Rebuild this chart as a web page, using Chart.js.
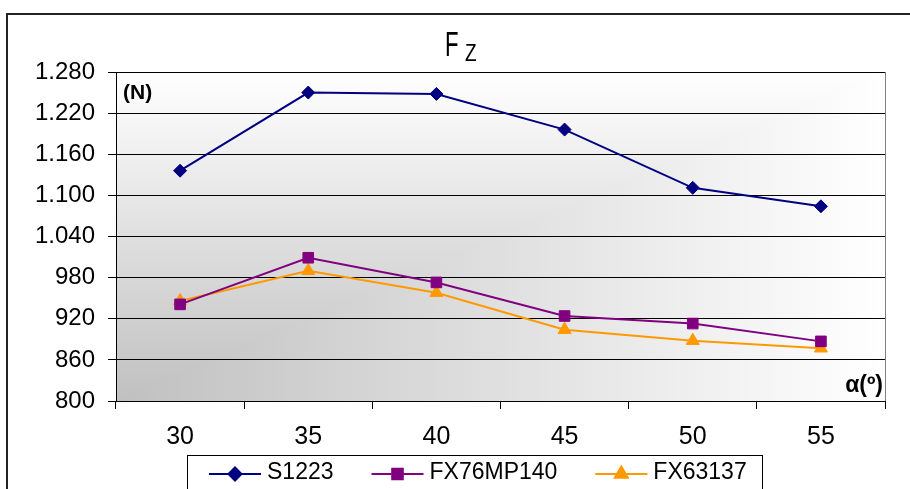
<!DOCTYPE html>
<html>
<head>
<meta charset="utf-8">
<title>Fz</title>
<script src="https://cdn.jsdelivr.net/npm/chart.js@4.4.1/dist/chart.umd.min.js"></script>
<style>
  html, body { margin: 0; padding: 0; background: #fff; }
  #wrap { position: relative; width: 910px; height: 489px; }
</style>
</head>
<body>
<div id="wrap"><canvas id="chartFz" width="910" height="489"></canvas></div>
<script>
/* ── Data ─────────────────────────────────────────────── */
const angles    = ["30", "35", "40", "45", "50", "55"];
const s1223     = [1136, 1250, 1248, 1196, 1111, 1084];
const fx76mp140 = [941, 1009, 973, 924, 913, 887];
const fx63137   = [946, 990, 958, 904, 888, 877];

const Y_MIN  = 800;
const Y_MAX  = 1280;
const Y_STEP = 60;

const FONT = '"Liberation Sans", Arial, sans-serif';

// 1280 -> "1.280"
const fmt = v => String(v).replace(/\B(?=(\d{3})+(?!\d))/g, ".");

/* ── Background: outer frame + corner gradient in plot area ── */
const backdrop = {
  id: "backdrop",
  beforeDraw(chart) {
    const { ctx, chartArea: a } = chart;
    ctx.save();
    ctx.fillStyle = "#fff";
    ctx.fillRect(0, 0, chart.width, chart.height);

    // outer chart frame (runs off right and bottom)
    ctx.strokeStyle = "#222";
    ctx.lineWidth = 2;
    ctx.beginPath();
    ctx.moveTo(7, chart.height);
    ctx.lineTo(7, 14);
    ctx.lineTo(chart.width, 14);
    ctx.stroke();

    // gradient from the bottom-left corner
    const stops = g => { g.addColorStop(0, "#c0c0c0"); g.addColorStop(1, "#ffffff"); };
    const gy = ctx.createLinearGradient(0, a.bottom, 0, a.top);
    stops(gy);
    ctx.fillStyle = gy;
    ctx.fillRect(a.left, a.top, a.right - a.left, a.bottom - a.top);

    const gx = ctx.createLinearGradient(a.left, 0, a.right, 0);
    stops(gx);
    ctx.fillStyle = gx;
    ctx.beginPath();
    ctx.moveTo(a.left, a.bottom);
    ctx.lineTo(a.right, a.top);
    ctx.lineTo(a.right, a.bottom);
    ctx.closePath();
    ctx.fill();
    ctx.restore();
  },
  beforeDatasetsDraw(chart) {
    const { ctx, chartArea: a } = chart;
    ctx.save();
    ctx.strokeStyle = "#808080";
    ctx.lineWidth = 1;
    ctx.beginPath();
    ctx.moveTo(Math.round(a.right) + 0.5, a.top);
    ctx.lineTo(Math.round(a.right) + 0.5, a.bottom);
    ctx.stroke();
    ctx.restore();
  },
};

/* ── Title, unit labels and legend ────────────────────── */
const annotations = {
  id: "annotations",
  afterDraw(chart) {
    const { ctx, chartArea: a } = chart;
    ctx.save();
    ctx.fillStyle = "#000";
    ctx.textBaseline = "alphabetic";

    // title F with subscript Z (tall, condensed lettering)
    ctx.save();
    ctx.font = "27px " + FONT;
    ctx.translate(445, 56);
    ctx.scale(0.82, 1.32);
    ctx.fillText("F", 0, 0);
    ctx.restore();
    ctx.save();
    ctx.font = "20px " + FONT;
    ctx.translate(465, 61);
    ctx.scale(0.95, 1.2);
    ctx.fillText("Z", 0, 0);
    ctx.restore();

    // axis units
    ctx.font = "bold 21px " + FONT;
    ctx.textAlign = "left";
    ctx.fillText("(N)", a.left + 7, 99);
    ctx.font = "bold 23px " + FONT;
    ctx.textAlign = "right";
    ctx.fillText("α(º)", a.right - 2, 392);

    // legend box
    ctx.strokeStyle = "#000";
    ctx.lineWidth = 1;
    ctx.strokeRect(187.5, 455.5, 575, 60);

    ctx.font = "23px " + FONT;
    ctx.textAlign = "left";
    let x = 209;
    const y = 474;
    chart.data.datasets.forEach(ds => {
      ctx.strokeStyle = ds.borderColor;
      ctx.lineWidth = 2;
      ctx.beginPath();
      ctx.moveTo(x, y);
      ctx.lineTo(x + 52, y);
      ctx.stroke();
      ctx.fillStyle = ds.pointBackgroundColor;
      ctx.strokeStyle = ds.pointBorderColor;
      Chart.helpers.drawPoint(ctx, {
        pointStyle: ds.pointStyle,
        radius: ds.pointRadius,
        rotation: 0,
        borderWidth: 1,
      }, x + 26, y);
      ctx.fillStyle = "#000";
      ctx.fillText(ds.label, x + 58, 479);
      x = x + 58 + ctx.measureText(ds.label).width + 38;
    });
    ctx.restore();
  },
};

/* ── Series factory ───────────────────────────────────── */
function series(label, data, color, style, radius) {
  return {
    label,
    data,
    borderColor: color,
    backgroundColor: color,
    borderWidth: 2,
    tension: 0,
    pointStyle: style,
    pointRadius: radius,
    pointHoverRadius: radius,
    pointBackgroundColor: color,
    pointBorderColor: color,
    pointBorderWidth: 1,
  };
}

new Chart(document.getElementById("chartFz"), {
  type: "line",
  data: {
    labels: angles,
    datasets: [
      series("S1223",     s1223,     "#000080", "rectRot",  6.5),
      series("FX76MP140", fx76mp140, "#800080", "rect",     7.5),
      series("FX63137",   fx63137,   "#ff9900", "triangle", 7.5),
    ],
  },
  options: {
    responsive: false,
    animation: false,
    layout: { padding: { top: 72, right: 25, left: 0, bottom: 0 } },
    plugins: {
      legend:  { display: false },
      title:   { display: false },
      tooltip: { enabled: false },
    },
    scales: {
      x: {
        offset: true,
        afterFit: s => { s.height = 88; },
        grid: {
          offset: true,
          drawOnChartArea: false,
          tickLength: 8,
          color: "#000",
        },
        border: { color: "#000", width: 1 },
        ticks: { color: "#000", padding: 13, font: { family: FONT, size: 25 } },
      },
      y: {
        min: Y_MIN,
        max: Y_MAX,
        afterFit: s => { s.width = 116; },
        grid: { color: "#000", lineWidth: 1, tickLength: 8 },
        border: { color: "#000", width: 1 },
        ticks: {
          stepSize: Y_STEP,
          color: "#000",
          padding: 13,
          font: { family: FONT, size: 24 },
          callback: v => fmt(v),
        },
      },
    },
  },
  plugins: [backdrop, annotations],
});
</script>
</body>
</html>
